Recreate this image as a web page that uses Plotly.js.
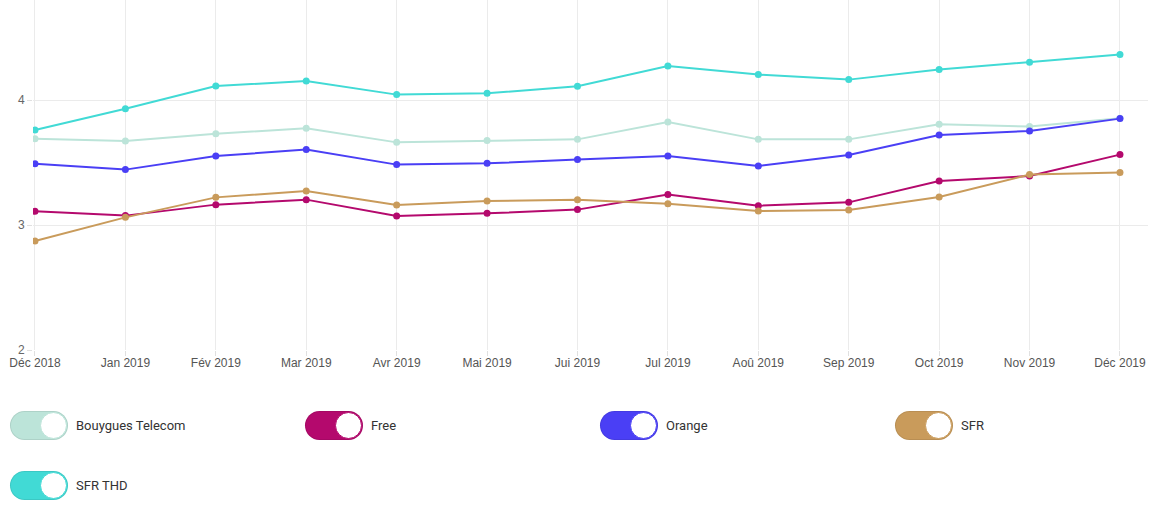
<!DOCTYPE html>
<html>
<head>
<meta charset="utf-8">
<script src="https://cdn.plot.ly/plotly-3.0.1.min.js"></script>
<style>
  html, body { margin: 0; padding: 0; background: #fff; width: 1152px; height: 511px; overflow: hidden; }
  #chart { position: absolute; left: 0; top: 0; width: 1152px; height: 380px; }
  .leg { position: absolute; height: 30px; display: flex; align-items: center; font-family: Roboto, "Open Sans", sans-serif; font-size: 13px; color: #333; }
  .sw { position: relative; width: 58px; height: 29px; border-radius: 15px; box-sizing: border-box; box-shadow: inset 0 0 0 1px rgba(0,0,0,0.08); margin-right: 8px; }
  .knob { position: absolute; right: 1px; top: 1px; width: 27px; height: 27px; border-radius: 50%; background: #fff; box-sizing: border-box; border: 1.5px solid; }
</style>
</head>
<body>
<div id="chart"></div>
<div id="legend"></div>
<script>
const months = ["Déc 2018","Jan 2019","Fév 2019","Mar 2019","Avr 2019","Mai 2019","Jui 2019","Jul 2019","Aoû 2019","Sep 2019","Oct 2019","Nov 2019","Déc 2019"];
const bouygues = [3.69,3.672,3.73,3.773,3.661,3.675,3.685,3.824,3.685,3.685,3.805,3.787,3.853];
const free =     [3.109,3.075,3.163,3.203,3.072,3.093,3.123,3.243,3.155,3.181,3.352,3.392,3.563];
const orange =   [3.49,3.443,3.552,3.603,3.483,3.493,3.523,3.552,3.472,3.56,3.72,3.752,3.851];
const sfr =      [2.872,3.061,3.221,3.272,3.16,3.192,3.203,3.171,3.112,3.12,3.224,3.403,3.421];
const sfrThd =   [3.76,3.93,4.112,4.152,4.043,4.053,4.11,4.272,4.203,4.163,4.243,4.301,4.363];
const seriesNames = ["Bouygues Telecom","Free","Orange","SFR","SFR THD"];
const seriesColors = ["#bce4d9","#b4096d","#4a3ff5","#c99b5b","#41dad5"];
const seriesData = [bouygues, free, orange, sfr, sfrThd];
const yTicks = [2,3,4];

const idx = months.map((m,i)=>i);
const traces = seriesData.map((d,i)=>({
  type:'scatter', mode:'lines+markers', name: seriesNames[i],
  x: idx, y: d,
  line:{color: seriesColors[i], width:2},
  marker:{color: seriesColors[i], size:7},
  showlegend:false
}));

const layout = {
  width:1152, height:380,
  margin:{l:33, r:4, t:0, b:30},
  paper_bgcolor:'#fff', plot_bgcolor:'#fff',
  font:{family:'"Liberation Sans", Arial, sans-serif', size:12, color:'#555'},
  xaxis:{
    range:[-0.022, 12.31], tickmode:'array', tickvals: idx, ticktext: months,
    showgrid:true, gridcolor:'#ebebeb', gridwidth:1,
    zeroline:false, showline:false,
    ticks:'outside', ticklen:5, tickcolor:'#e0e0e0',
    ticklabelstandoff:-3,
    tickfont:{size:12, color:'#555'}
  },
  yaxis:{
    range:[2, 4.8], tickmode:'array', tickvals: yTicks, ticktext: yTicks.map(String),
    showgrid:true, gridcolor:'#ebebeb', gridwidth:1,
    zeroline:false, showline:false,
    ticks:'outside', ticklen:5, tickcolor:'#e0e0e0',
    tickfont:{size:12, color:'#666'}
  }
};
Plotly.newPlot('chart', traces, layout, {displayModeBar:false, staticPlot:true});

const leg = document.getElementById('legend');
const pos = [[10,410],[305,410],[600,410],[895,410],[10,470]];
seriesNames.forEach((n,i)=>{
  const d = document.createElement('div');
  d.className='leg';
  d.style.left = pos[i][0]+'px';
  d.style.top = pos[i][1]+'px';
  const sw = document.createElement('div');
  sw.className='sw';
  sw.style.background = seriesColors[i];
  const k = document.createElement('div');
  k.className='knob';
  k.style.borderColor = seriesColors[i];
  sw.appendChild(k);
  d.appendChild(sw);
  const t = document.createElement('span');
  t.textContent = n;
  d.appendChild(t);
  leg.appendChild(d);
});
</script>
</body>
</html>
